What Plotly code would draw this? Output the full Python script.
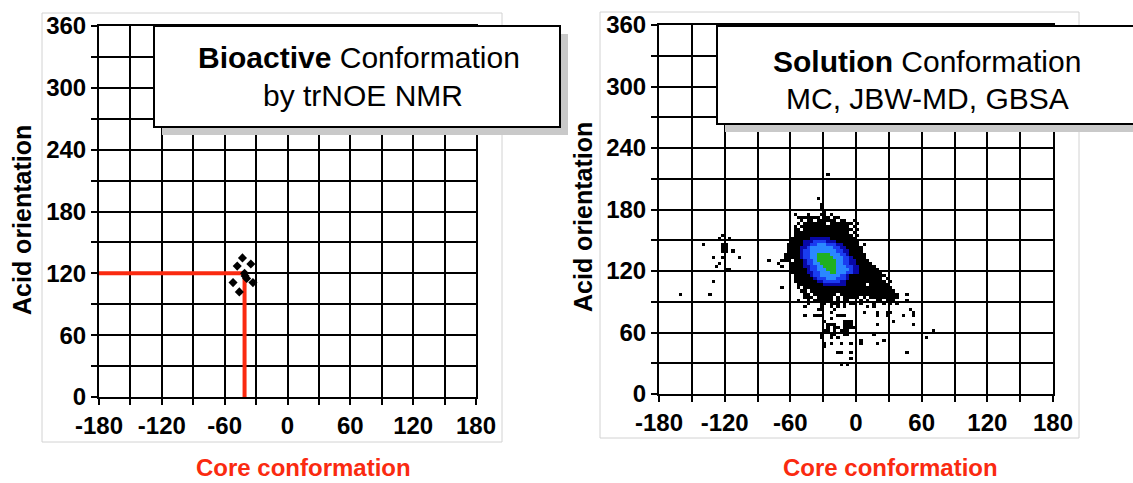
import plotly.graph_objects as go

W, H = 1133, 483

# ---------------- data ----------------
axis_ticks = [-180, -120, -60, 0, 60, 120, 180]
y_ticks = [0, 60, 120, 180, 240, 300, 360]

# Left panel: trNOE conformers (core angle, acid angle)
bioactive_x = [-43, -48, -35, -41, -52, -33, -46, -40.5, -39]
bioactive_y = [135, 127, 129, 120, 111, 111, 102, 117.5, 115]
# red guide lines marking the bioactive conformation
red_x = [-180, -41, -41]
red_y = [120, 120, 0]

# Right panel: 2D population map, 3-degree cells.
# '#' = low (black), 'b' dark blue, 'B' blue, 'c' light blue, 'g' green (highest)
CELL = 3
ART_X0 = -84   # x of left edge of art column 0
ART_Y0 = 219   # y of top edge of art row 0
density_rows = [
    (1, 19, "#"),
    (9, 16, "#"),
    (11, 17, "#"),
    (12, 17, "#"),
    (13, 18, "#"),
    (14, 9, "#...#...##.#"),
    (15, 10, "#######.##.##"),
    (16, 11, "#.##.######.##..#"),
    (17, 10, "#.#######.#######.#"),
    (18, 9, "#.###############.#"),
    (19, 9, "##.###############.#"),
    (20, 9, "#################.#"),
    (21, 9, "##################.#"),
    (22, 8, "######bbbbbb########"),
    (23, 8, "####bbbBBBBbbb#######"),
    (24, 7, "#####bbBBcccBBBbb#####.#"),
    (25, 7, "####bbBcccccccBBbb#####"),
    (26, 7, "####bBBccccccccBBbb####"),
    (27, 6, "#####bBBccggggcccBBb#####"),
    (28, 6, "#####bBBccgggggcccBBb####"),
    (29, 1, "#"),
    (29, 5, "###.###bBBcggggggccBBbb####"),
    (30, 4, "#"),
    (30, 8, "####bBBccgggggccBBbb#####"),
    (31, 5, "#"),
    (31, 8, "####bbBBccggggcccBBbb#####"),
    (32, 8, "#####bBBcccgggccccBbb######"),
    (33, 8, "#####bbBBcccggcccBBbb#######"),
    (34, 9, "#####bBBccccccBBb###########"),
    (35, 9, "######bBBBcccBBBb##########.#"),
    (36, 9, "#######bbBBBBBbb############.#"),
    (37, 10, "########bbbbbbb######.######"),
    (38, 5, "#"),
    (38, 10, "#.###########################"),
    (39, 11, "##.##########################"),
    (40, 11, ".##.#######.##################"),
    (40, 43, "#"),
    (41, 12, "###.#####.#.#####.#.#########"),
    (42, 10, "#..#.######.#.##...#.#..##.###"),
    (42, 43, "#"),
    (43, 13, "#...##.###.#.##.#...#..#.#.#"),
    (44, 12, "#....#..#.#.#......#.#"),
    (45, 16, "##...#"),
    (45, 44, "#"),
    (46, 20, "#.........#...#..##"),
    (46, 45, "#"),
    (47, 12, "#..###....###.........#..#....#..#"),
    (48, 20, "#"),
    (49, 18, "#.....###............#"),
    (50, 19, "###..###.......#..........#"),
    (51, 19, "#.##.####"),
    (52, 18, "##.#.###"),
    (52, 51, "#"),
    (53, 17, "#..##..##.......#"),
    (54, 17, "#..#.#"),
    (54, 49, "#"),
    (55, 29, "#......#"),
    (56, 18, "#.#..#..#..#....#"),
    (57, 18, "#"),
    (59, 22, "##..#"),
    (59, 43, "#"),
    (61, 26, "#"),
    (63, 23, "#.#"),
]
# isolated low-population points away from the main cluster
outlier_x = [-121, -124, -115, -141, -121, -118, -121, -118, -121, -118,
             -112, -108, -132, -123, -126, -129, -117, -119, -132, -135, -162]
outlier_y = [155, 150, 150, 144, 144, 144, 141, 141, 138, 138,
             140, 134, 134, 134, 128, 125, 122, 120, 110, 98, 96]

LEVELS = {"#": 1, "b": 2, "B": 3, "c": 4, "g": 5}

# ---------------- build density grid ----------------
nx = 360 // CELL
ny = 360 // CELL
xc = [-180 + CELL * (i + 0.5) for i in range(nx)]
yc = [CELL * (j + 0.5) for j in range(ny)]
z = [[None] * nx for _ in range(ny)]
for r, c0, s in density_rows:
    for k, ch in enumerate(s):
        if ch in LEVELS:
            x = ART_X0 + CELL * (c0 + k) + CELL / 2
            y = ART_Y0 - CELL * r - CELL / 2
            i = int((x + 180) // CELL)
            j = int(y // CELL)
            z[j][i] = LEVELS[ch]
for x, y in zip(outlier_x, outlier_y):
    i = int((x + 180) // CELL)
    j = int(y // CELL)
    if z[j][i] is None:
        z[j][i] = 1

cols = ["#000000", "#0808a8", "#1a3cf0", "#2a88ff", "#20b020"]
cscale = []
for k, col in enumerate(cols):
    cscale.append([k / 5, col])
    cscale.append([(k + 1) / 5, col])

# ---------------- figure ----------------
fig = go.Figure()

fig.add_trace(go.Scatter(x=red_x, y=red_y, mode="lines",
                         line=dict(color="#fa2a10", width=4),
                         xaxis="x", yaxis="y", hoverinfo="skip", showlegend=False))
fig.add_trace(go.Scatter(x=bioactive_x, y=bioactive_y, mode="markers",
                         marker=dict(symbol="diamond", size=7, color="black"),
                         xaxis="x", yaxis="y", showlegend=False))
fig.add_trace(go.Heatmap(x=xc, y=yc, z=z, colorscale=cscale, zmin=0.5, zmax=5.5,
                         showscale=False, hoverinfo="skip",
                         xaxis="x2", yaxis="y2"))

FONT = "Liberation Sans, Arial, sans-serif"
tickfont = dict(family=FONT, size=24, color="black", weight="bold")


def xax(domain, anchor):
    return dict(domain=domain, range=[-180, 180], tickmode="array", tickvals=axis_ticks,
                ticktext=[str(v) for v in axis_ticks], anchor=anchor, automargin=False,
                showgrid=True, gridcolor="black", gridwidth=2, zeroline=False,
                showline=True, linecolor="black", linewidth=2, mirror=True,
                ticks="outside", ticklen=6, tickwidth=2, tickcolor="black",
                ticklabelstandoff=0,
                minor=dict(tickmode="array", tickvals=list(range(-150, 180, 60)),
                           showgrid=True, gridcolor="black", gridwidth=2,
                           ticks="outside", ticklen=6, tickwidth=2, tickcolor="black"),
                tickfont=tickfont, fixedrange=True)


def yax(domain, anchor):
    return dict(domain=domain, range=[0, 360], tickmode="array", tickvals=y_ticks,
                ticktext=[str(v) for v in y_ticks], anchor=anchor, automargin=False,
                showgrid=True, gridcolor="black", gridwidth=2, zeroline=False,
                showline=True, linecolor="black", linewidth=2, mirror=True,
                ticks="outside", ticklen=6, tickwidth=2, tickcolor="black",
                minor=dict(tickmode="array", tickvals=list(range(30, 360, 60)),
                           showgrid=True, gridcolor="black", gridwidth=2,
                           ticks="outside", ticklen=6, tickwidth=2, tickcolor="black"),
                tickfont=tickfont, fixedrange=True)


def px(x):
    return x / W


def py(y):
    return 1 - y / H


shapes = []
# light panel frames
for x0, x1, y0, y1 in [(42, 502, 13, 442), (600, 1079, 12, 438)]:
    shapes.append(dict(type="rect", xref="paper", yref="paper", layer="below",
                       x0=px(x0), x1=px(x1), y0=py(y1), y1=py(y0),
                       line=dict(color="#d2d2d2", width=1)))
# title boxes with shadows
for x0, x1, y0, y1 in [(154, 560, 26, 127), (717, 1145, 26, 124)]:
    shapes.append(dict(type="rect", xref="paper", yref="paper", layer="above",
                       x0=px(x0 + 8), x1=px(x1 + 8), y0=py(y1 + 8), y1=py(y0 + 8),
                       fillcolor="#c9c9c9", line=dict(width=0)))
    shapes.append(dict(type="rect", xref="paper", yref="paper", layer="above",
                       x0=px(x0), x1=px(x1), y0=py(y1), y1=py(y0),
                       fillcolor="white", line=dict(color="black", width=2)))

annotations = []


def ann(text, x, y, size, color="black", angle=0, bold=False, yanchor="middle"):
    annotations.append(dict(text=text, xref="paper", yref="paper", x=px(x), y=py(y),
                            xanchor="center", yanchor=yanchor, showarrow=False,
                            textangle=angle,
                            font=dict(family=FONT, size=size, color=color,
                                      weight="bold" if bold else "normal")))


ann("<b>Bioactive</b> Conformation", 359, 57, 30)
ann("by trNOE NMR", 363, 96, 30)
ann("<b>Solution</b> Conformation", 927, 61, 30)
ann("MC, JBW-MD, GBSA", 927, 98, 30)
ann("Acid orientation", 22, 220, 25, angle=-90, bold=True)
ann("Acid orientation", 583, 217, 25, angle=-90, bold=True)
ann("Core conformation", 303, 483, 24, color="#fa2a10", bold=True, yanchor="bottom")
ann("Core conformation", 890, 483, 24, color="#fa2a10", bold=True, yanchor="bottom")

fig.update_layout(
    width=W, height=H, margin=dict(l=0, r=0, t=0, b=0, autoexpand=False),
    paper_bgcolor="white", plot_bgcolor="white",
    xaxis=xax([px(99), px(476)], "y"),
    yaxis=yax([py(397), py(26)], "x"),
    xaxis2=xax([px(659), px(1053)], "y2"),
    yaxis2=yax([py(394), py(25)], "x2"),
    shapes=shapes, annotations=annotations, showlegend=False,
)

fig.write_html("out.html")
